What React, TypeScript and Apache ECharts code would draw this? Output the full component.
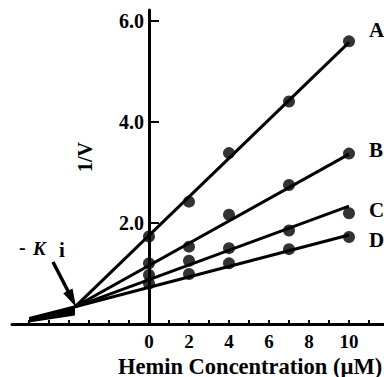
import React, { useEffect, useRef } from "react";
import * as echarts from "echarts";

// Hemin concentrations (µM) at which 1/V was measured
const concentrations = [0, 2, 4, 7, 10];
// 1/V values for the four substrate conditions
const seriesA = [1.73, 2.42, 3.38, 4.4, 5.59];
const seriesB = [1.2, 1.53, 2.16, 2.75, 3.37];
const seriesC = [0.97, 1.25, 1.5, 1.85, 2.19];
const seriesD = [0.8, 0.99, 1.2, 1.48, 1.72];

// fitted lines: from the common intersection (-Ki) to x = 10
const fitX = [-3.7, 10];
const fitA = [0.34, 5.57];
const fitB = [0.34, 3.36];
const fitC = [0.34, 2.33];
const fitD = [0.34, 1.76];

// extrapolated lines left of the intersection drawn as a thin wedge
const wedgeX = [-6.0, -6.0, -3.7, -3.7];
const wedgeY = [0.03, 0.14, 0.37, 0.17];

const seriesNames = ["A", "B", "C", "D"];
const xTickValues = [-6, -5, -4, -3, -2, -1, 0, 1, 2, 3, 4, 5, 6, 7, 8, 9, 10, 11];
const xLabelValues = [0, 2, 4, 6, 8, 10];
const yTickValues = [2, 4, 6];

const X_MIN = -6.85;
const X_MAX = 11.75;
const FONT = "'Liberation Serif', 'Times New Roman', serif";

export default function App() {
  const ref = useRef<HTMLDivElement>(null);

  useEffect(() => {
    if (!ref.current) return;
    const chart = echarts.init(ref.current, null, { renderer: "svg" });

    const gridLeft = 12;
    const gridWidth = 384 - gridLeft;
    // move the y axis to x = 0 of the x scale
    const yOffset = -((0 - X_MIN) / (X_MAX - X_MIN)) * gridWidth;

    const pts = [seriesA, seriesB, seriesC, seriesD];
    const fits = [fitA, fitB, fitC, fitD];

    const series: any[] = [];
    fits.forEach((f, i) => {
      series.push({
        type: "line",
        name: seriesNames[i] + " fit",
        data: fitX.map((x, j) => [x, f[j]]),
        showSymbol: false,
        symbol: "none",
        lineStyle: { color: "#000", width: 3 },
        clip: true,
        z: 2,
      });
    });
    series.push({
      type: "custom",
      name: "extrapolation",
      data: [0],
      clip: true,
      z: 2,
      renderItem: (_params: any, api: any) => ({
        type: "polygon",
        shape: {
          points: wedgeX.map((x, j) => api.coord([x, wedgeY[j]])),
        },
        style: { fill: "#000" },
      }),
    });
    pts.forEach((p, i) => {
      series.push({
        type: "scatter",
        name: seriesNames[i],
        data: concentrations.map((x, j) => [x, p[j]]),
        symbol: "circle",
        symbolSize: 12,
        itemStyle: { color: "#000" },
        z: 3,
      });
    });

    const labelY = [30, 149.5, 209.5, 240];
    const graphics: any[] = seriesNames.map((n, i) => ({
      type: "text",
      x: 369,
      y: labelY[i],
      style: {
        text: n,
        font: `bold 21px ${FONT}`,
        fill: "#000",
        textAlign: "left",
        textVerticalAlign: "middle",
      },
    }));

    graphics.push(
      {
        type: "text",
        x: 85,
        y: 157,
        rotation: Math.PI / 2,
        style: {
          text: "1/V",
          font: `bold 20px ${FONT}`,
          fill: "#000",
          textAlign: "center",
          textVerticalAlign: "middle",
        },
      },
      {
        type: "text",
        x: 118,
        y: 366,
        style: {
          text: "Hemin Concentration (µM)",
          font: `bold 22.5px ${FONT}`,
          fill: "#000",
          textAlign: "left",
          textVerticalAlign: "middle",
        },
      },
      {
        type: "text",
        x: 19,
        y: 247,
        style: {
          text: "-",
          font: `bold 20px ${FONT}`,
          fill: "#000",
          textAlign: "left",
          textVerticalAlign: "middle",
        },
      },
      {
        type: "text",
        x: 33,
        y: 248,
        style: {
          text: "K",
          font: `italic bold 19px ${FONT}`,
          fill: "#000",
          textAlign: "left",
          textVerticalAlign: "middle",
        },
      },
      {
        type: "text",
        x: 59,
        y: 249.5,
        style: {
          text: "i",
          font: `bold 21px ${FONT}`,
          fill: "#000",
          textAlign: "left",
          textVerticalAlign: "middle",
        },
      },
      {
        type: "line",
        shape: { x1: 53, y1: 262, x2: 68.5, y2: 292 },
        style: { stroke: "#000", lineWidth: 3.5 },
      },
      {
        type: "polygon",
        shape: {
          points: [
            [76, 307],
            [72.5, 288.5],
            [63.2, 293.3],
          ],
        },
        style: { fill: "#000" },
      }
    );

    chart.setOption({
      animation: false,
      backgroundColor: "#fff",
      grid: {
        left: gridLeft,
        right: 0,
        top: 10,
        bottom: 53,
        containLabel: false,
        outerBoundsMode: "none",
      },
      xAxis: {
        type: "value",
        min: X_MIN,
        max: X_MAX,
        axisLine: { onZero: true, lineStyle: { color: "#000", width: 3 } },
        axisTick: {
          show: true,
          inside: true,
          length: 4,
          customValues: xTickValues,
          lineStyle: { color: "#000", width: 2 },
        },
        axisLabel: {
          customValues: xLabelValues,
          margin: 8,
          color: "#000",
          fontFamily: FONT,
          fontWeight: "bold",
          fontSize: 19,
          formatter: (v: number) => String(v),
        },
        splitLine: { show: false },
      },
      yAxis: {
        type: "value",
        min: 0,
        max: 6.21,
        position: "left",
        offset: yOffset,
        axisLine: { show: true, onZero: false, lineStyle: { color: "#000", width: 3 } },
        axisTick: {
          show: true,
          inside: true,
          length: 10,
          customValues: yTickValues,
          lineStyle: { color: "#000", width: 2 },
        },
        axisLabel: {
          customValues: yTickValues,
          margin: 5,
          color: "#000",
          fontFamily: FONT,
          fontWeight: "bold",
          fontSize: 20,
          formatter: (v: number) => v.toFixed(1),
        },
        splitLine: { show: false },
      },
      series,
      graphic: graphics,
    });

    return () => chart.dispose();
  }, []);

  return (
    <div
      ref={ref}
      style={{ position: "fixed", left: 0, top: 0, width: 384, height: 377 }}
    />
  );
}
